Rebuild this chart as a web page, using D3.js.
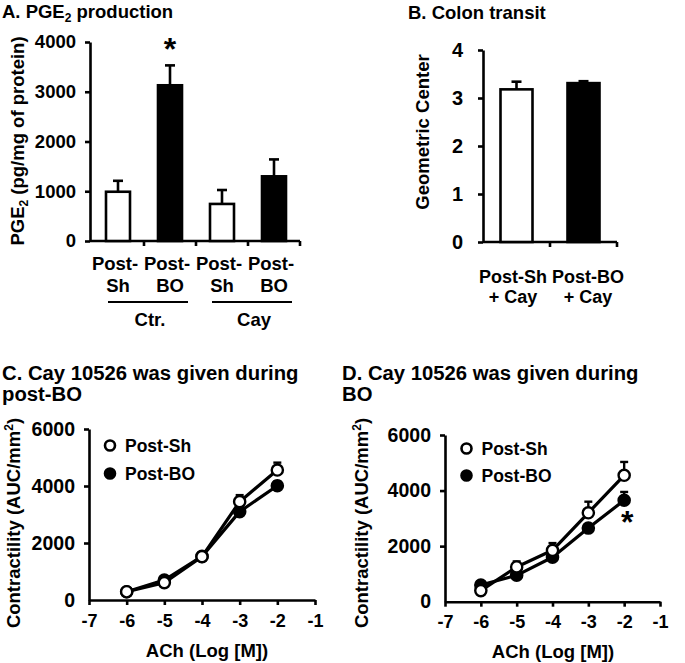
<!DOCTYPE html>
<html>
<head>
<meta charset="utf-8">
<script src="https://cdn.jsdelivr.net/npm/d3@7"></script>
<style>
  html, body { margin: 0; padding: 0; background: #fff; }
  svg { display: block; }
  text { font-family: "Liberation Sans", Arial, Helvetica, sans-serif; font-weight: bold; fill: #000; }
</style>
</head>
<body>
<svg id="chart" width="685" height="663"></svg>
<script>
// ---------------- DATA ----------------
// Panel A: PGE2 production
const pgeCategories = ["Post-Sh|Ctr.", "Post-BO|Ctr.", "Post-Sh|Cay", "Post-BO|Cay"];
const pgeLine1 = ["Post-", "Post-", "Post-", "Post-"];
const pgeLine2 = ["Sh", "BO", "Sh", "BO"];
const pgeValues = [990, 3130, 745, 1300];
const pgeErrors = [220, 400, 280, 340];
const pgeFills = ["white", "black", "white", "black"];
const pgeGroups = ["Ctr.", "Cay"];
const pgeTicks = [0, 1000, 2000, 3000, 4000];

// Panel B: Colon transit
const transitCategories = ["Post-Sh + Cay", "Post-BO + Cay"];
const transitLine1 = ["Post-Sh", "Post-BO"];
const transitLine2 = ["+ Cay", "+ Cay"];
const transitValues = [3.18, 3.31];
const transitErrors = [0.16, 0.04];
const transitFills = ["white", "black"];
const transitTicks = [0, 1, 2, 3, 4];

// Panels C & D: ACh dose-response
const achDoses = [-6, -5, -4, -3, -2];
const achTicks = [-7, -6, -5, -4, -3, -2, -1];
const contractTicks = [0, 2000, 4000, 6000];
const cShValues = [290, 610, 1520, 3450, 4560];
const cShErrors = [40, 60, 60, 230, 260];
const cBoValues = [290, 700, 1530, 3100, 4010];
const cBoErrors = [30, 50, 50, 100, 150];
const dShValues = [400, 1250, 1850, 3200, 4550];
const dShErrors = [60, 200, 260, 400, 480];
const dBoValues = [600, 950, 1600, 2650, 3650];
const dBoErrors = [50, 80, 80, 110, 300];
const seriesNames = ["Post-Sh", "Post-BO"];

// ---------------- DRAWING ----------------
const svg = d3.select("#chart");
const AXW = 2.6;

function styleAxis(g) {
  g.selectAll("path.domain").attr("stroke", "#000").attr("stroke-width", AXW);
  g.selectAll(".tick line").attr("stroke", "#000").attr("stroke-width", AXW);
}

function label(x, y, txt, size, anchor) {
  return svg.append("text").attr("x", x).attr("y", y)
    .attr("font-size", size).attr("text-anchor", anchor || "start").text(txt);
}

// ===== Panel A =====
{
  const x = d3.scaleBand().domain(pgeCategories).range([92, 300]).padding(0);
  const y = d3.scaleLinear().domain([0, 4000]).range([241, 42]);
  const g = svg.append("g");
  const x0 = 90;

  const ya = g.append("g").attr("transform", `translate(${x0},0)`)
    .call(d3.axisLeft(y).tickValues(pgeTicks).tickFormat(d3.format("d")).tickSize(5).tickPadding(9).tickSizeOuter(0));
  ya.selectAll("text").attr("font-size", 18.5);
  styleAxis(ya);

  g.append("line").attr("x1", x0).attr("x2", x.range()[1]).attr("y1", y(0)).attr("y2", y(0))
    .attr("stroke", "#000").attr("stroke-width", AXW);
  const bounds = pgeCategories.map(c => x(c)).concat([x.range()[1]]).slice(1);
  g.selectAll(".xtick").data(bounds).join("line")
    .attr("x1", d => d).attr("x2", d => d).attr("y1", y(0)).attr("y2", y(0) + 5)
    .attr("stroke", "#000").attr("stroke-width", AXW);

  const bw = 24;
  const cx = c => x(c) + x.bandwidth() / 2;
  pgeCategories.forEach((c, i) => {
    const top = y(pgeValues[i] + pgeErrors[i]);
    g.append("line").attr("x1", cx(c)).attr("x2", cx(c)).attr("y1", y(pgeValues[i])).attr("y2", top)
      .attr("stroke", "#000").attr("stroke-width", 2.6);
    g.append("line").attr("x1", cx(c) - 5).attr("x2", cx(c) + 5).attr("y1", top).attr("y2", top)
      .attr("stroke", "#000").attr("stroke-width", 2.6);
  });
  g.selectAll(".bar").data(pgeCategories).join("rect")
    .attr("x", c => cx(c) - bw / 2).attr("width", bw)
    .attr("y", (c, i) => y(pgeValues[i])).attr("height", (c, i) => y(0) - y(pgeValues[i]))
    .attr("fill", (c, i) => pgeFills[i]).attr("stroke", "#000").attr("stroke-width", 2.6);

  pgeCategories.forEach((c, i) => {
    label(cx(c) - 3, 270, pgeLine1[i], 18.5, "middle");
    label(cx(c), 292, pgeLine2[i], 18.5, "middle");
  });
  [[0, 1], [2, 3]].forEach((pair, gi) => {
    const a = cx(pgeCategories[pair[0]]) - 10, b = cx(pgeCategories[pair[1]]) + 18;
    g.append("line").attr("x1", a).attr("x2", b).attr("y1", 302).attr("y2", 302)
      .attr("stroke", "#000").attr("stroke-width", 2);
    label((a + b) / 2 + 2, 326, pgeGroups[gi], 18.5, "middle");
  });

  label(cx(pgeCategories[1]), 60, "*", 32, "middle");

  const t = label(2, 18, "", 18.5);
  t.append("tspan").text("A. PGE");
  t.append("tspan").text("2").attr("font-size", 12).attr("dy", 4);
  t.append("tspan").text(" production").attr("dy", -4);

  const yl = svg.append("text").attr("transform", "translate(24,141) rotate(-90)")
    .attr("font-size", 18.5).attr("text-anchor", "middle");
  yl.append("tspan").text("PGE");
  yl.append("tspan").text("2").attr("font-size", 12).attr("dy", 4);
  yl.append("tspan").text(" (pg/mg of protein)").attr("dy", -4);
}

// ===== Panel B =====
{
  const x = d3.scaleBand().domain(transitCategories).range([483, 617]).padding(0);
  const y = d3.scaleLinear().domain([0, 4]).range([242, 50]);
  const g = svg.append("g");
  const x0 = 483;

  const ya = g.append("g").attr("transform", `translate(${x0},0)`)
    .call(d3.axisLeft(y).tickValues(transitTicks).tickFormat(d3.format("d")).tickSize(5).tickPadding(15).tickSizeOuter(0));
  ya.selectAll("text").attr("font-size", 20);
  styleAxis(ya);

  g.append("line").attr("x1", x0).attr("x2", x.range()[1]).attr("y1", y(0)).attr("y2", y(0))
    .attr("stroke", "#000").attr("stroke-width", AXW);
  const bounds = [x(transitCategories[1]), x.range()[1]];
  g.selectAll(".xtick").data(bounds).join("line")
    .attr("x1", d => d).attr("x2", d => d).attr("y1", y(0)).attr("y2", y(0) + 5)
    .attr("stroke", "#000").attr("stroke-width", AXW);

  const bw = 32;
  const cx = c => x(c) + x.bandwidth() / 2;
  transitCategories.forEach((c, i) => {
    const top = y(transitValues[i] + transitErrors[i]);
    g.append("line").attr("x1", cx(c)).attr("x2", cx(c)).attr("y1", y(transitValues[i])).attr("y2", top)
      .attr("stroke", "#000").attr("stroke-width", 2.6);
    g.append("line").attr("x1", cx(c) - 5).attr("x2", cx(c) + 5).attr("y1", top).attr("y2", top)
      .attr("stroke", "#000").attr("stroke-width", 2.6);
  });
  g.selectAll(".bar").data(transitCategories).join("rect")
    .attr("x", c => cx(c) - bw / 2).attr("width", bw)
    .attr("y", (c, i) => y(transitValues[i])).attr("height", (c, i) => y(0) - y(transitValues[i]))
    .attr("fill", (c, i) => transitFills[i]).attr("stroke", "#000").attr("stroke-width", 2.6);

  const labelShift = [-3.5, 4.5];
  transitCategories.forEach((c, i) => {
    label(cx(c) + labelShift[i], 283, transitLine1[i], 18, "middle");
    label(cx(c) + labelShift[i], 303, transitLine2[i], 18, "middle");
  });

  label(408, 19, "B. Colon transit", 18.5);
  svg.append("text").attr("transform", "translate(429,132) rotate(-90)")
    .attr("font-size", 18.5).attr("text-anchor", "middle").text("Geometric Center");
}

// ===== Panels C & D =====
function dosePanel(opts) {
  const x = d3.scaleLinear().domain([-7, -1]).range(opts.xr);
  const y = d3.scaleLinear().domain([0, 6000]).range(opts.yr);
  const g = svg.append("g");

  const ya = g.append("g").attr("transform", `translate(${opts.xr[0]},0)`)
    .call(d3.axisLeft(y).tickValues(contractTicks).tickFormat(d3.format("d")).tickSize(5).tickPadding(9).tickSizeOuter(0));
  ya.selectAll("text").attr("font-size", 19.5);
  ya.selectAll(".tick").filter(d => d === 0).select("line").remove();
  styleAxis(ya);

  const xa = g.append("g").attr("transform", `translate(0,${opts.yr[0]})`)
    .call(d3.axisBottom(x).tickValues(achTicks).tickFormat(d => "-" + Math.abs(d)).tickSize(5).tickPadding(9).tickSizeOuter(0));
  xa.selectAll("text").attr("font-size", 18);
  styleAxis(xa);

  const series = [
    { vals: opts.bo, errs: opts.boErr, fill: "black" },
    { vals: opts.sh, errs: opts.shErr, fill: "white" }
  ];
  const line = d3.line().x((d, i) => x(achDoses[i])).y(d => y(d));
  series.forEach(s => {
    g.append("path").datum(s.vals).attr("d", line).attr("fill", "none")
      .attr("stroke", "#000").attr("stroke-width", 3.2).attr("stroke-linejoin", "round");
  });
  series.forEach(s => {
    s.vals.forEach((v, i) => {
      const px = x(achDoses[i]), top = y(v + s.errs[i]);
      g.append("line").attr("x1", px).attr("x2", px).attr("y1", y(v)).attr("y2", top)
        .attr("stroke", "#000").attr("stroke-width", 2.4);
      g.append("line").attr("x1", px - 4).attr("x2", px + 4).attr("y1", top).attr("y2", top)
        .attr("stroke", "#000").attr("stroke-width", 2.4);
    });
  });
  series.forEach(s => {
    g.selectAll(null).data(s.vals).join("circle")
      .attr("cx", (d, i) => x(achDoses[i])).attr("cy", d => y(d)).attr("r", 5.6)
      .attr("fill", s.fill).attr("stroke", "#000").attr("stroke-width", 2.4);
  });

  const lg = opts.legend;
  [["white", seriesNames[0], lg.y1], ["black", seriesNames[1], lg.y2]].forEach(([f, n, ly]) => {
    g.append("circle").attr("cx", lg.x).attr("cy", ly).attr("r", 5).attr("fill", f)
      .attr("stroke", "#000").attr("stroke-width", 2.6);
    label(lg.x + 15, ly + 6, n, 17.5);
  });

  label(opts.tx, 380, opts.title1, 20.3);
  label(opts.tx, 401, opts.title2, 20.3);
  label(opts.xlabel[0], opts.xlabel[1], "ACh (Log [M])", 18.5, "middle");
  const yl = svg.append("text").attr("transform", `translate(${opts.ylx},523) rotate(-90)`)
    .attr("font-size", 18.5).attr("text-anchor", "middle");
  yl.append("tspan").text("Contractility (AUC/mm");
  yl.append("tspan").text("2").attr("font-size", 12).attr("dy", -7);
  yl.append("tspan").text(")").attr("dy", 7);
  if (opts.star) label(x(opts.star[0]) + 3, opts.star[1], "*", 32, "middle");
}

dosePanel({
  xr: [89, 315], yr: [600, 429],
  sh: cShValues, shErr: cShErrors, bo: cBoValues, boErr: cBoErrors,
  legend: { x: 110, y1: 445.5, y2: 473.5 },
  tx: 2, title1: "C. Cay 10526 was given during", title2: "post-BO",
  xlabel: [207, 657], ylx: 20
});
dosePanel({
  xr: [445, 660], yr: [601.7, 435],
  sh: dShValues, shErr: dShErrors, bo: dBoValues, boErr: dBoErrors,
  legend: { x: 466.5, y1: 448.5, y2: 475.5 },
  tx: 342, title1: "D. Cay 10526 was given during", title2: "BO",
  xlabel: [553, 658], ylx: 368, star: [-2, 533]
});
</script>
</body>
</html>
